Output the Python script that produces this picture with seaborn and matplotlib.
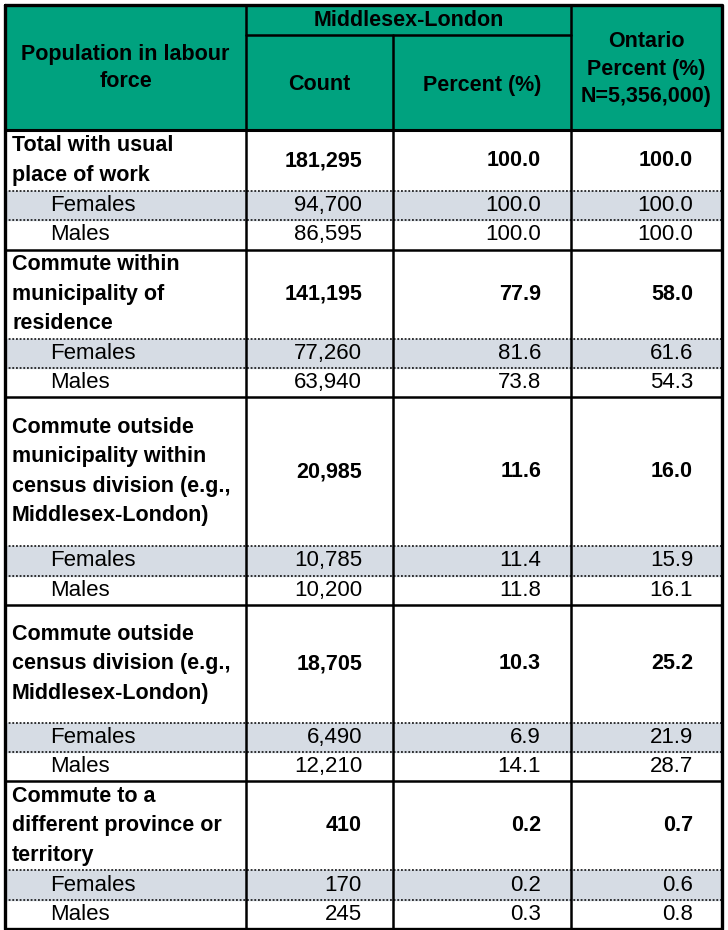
import matplotlib
matplotlib.use("Agg")
import matplotlib.pyplot as plt
import seaborn as sns

sns.set_theme(style="white")
plt.rcParams['font.family'] = ['Liberation Sans', 'DejaVu Sans']
plt.rcParams['text.color'] = 'black'

# - - - Table data - - -
categories = [
    ["Total with usual", "place of work"],
    ["Commute within", "municipality of", "residence"],
    ["Commute outside", "municipality within", "census division (e.g.,", "Middlesex-London)"],
    ["Commute outside", "census division (e.g.,", "Middlesex-London)"],
    ["Commute to a", "different province or", "territory"],
]
sub_labels = ["Females", "Males"]
count_total = [181295, 141195, 20985, 18705, 410]
count_f = [94700, 77260, 10785, 6490, 170]
count_m = [86595, 63940, 10200, 12210, 245]
pct_total = [100.0, 77.9, 11.6, 10.3, 0.2]
pct_f = [100.0, 81.6, 11.4, 6.9, 0.2]
pct_m = [100.0, 73.8, 11.8, 14.1, 0.3]
ont_total = [100.0, 58.0, 16.0, 25.2, 0.7]
ont_f = [100.0, 61.6, 15.9, 21.9, 0.6]
ont_m = [100.0, 54.3, 16.1, 28.7, 0.8]

# - - - Layout (pixels) - - -
green = "#00A27F"
grey = "#D6DCE4"
xs = [5, 246, 393, 571, 722]
right_edges = [362, 541, 693]
top, head_mid, head_bot = 5, 35, 130
block_h = [61, 89, 149, 118, 89]
sub_h = 29.3
line_gap = 29.5
fs_b = 15.5
fs = 16

fig = plt.figure(figsize=(7.28, 9.30), dpi=100)
ax = fig.add_axes([0, 0, 1, 1])
ax.set_xlim(0, 728)
ax.set_ylim(930, 0)
ax.axis('off')

# header
ax.fill_between([xs[0], xs[-1]], top, head_bot, color=green, zorder=0)
ax.text((xs[0] + xs[1]) / 2, 68, "Population in labour\nforce", ha='center', va='center',
        fontsize=fs_b, fontweight='bold', linespacing=1.4)
ax.text((xs[1] + xs[3]) / 2, (top + head_mid) / 2 + 1, "Middlesex-London", ha='center', va='center',
        fontsize=fs_b, fontweight='bold')
ax.text((xs[1] + xs[2]) / 2, 85, "Count", ha='center', va='center', fontsize=fs_b, fontweight='bold')
ax.text((xs[2] + xs[3]) / 2, 85, "Percent (%)", ha='center', va='center', fontsize=fs_b, fontweight='bold')
ax.text((xs[3] + xs[4]) / 2, 69, "Ontario\nPercent (%)\nN=5,356,000)", ha='center', va='center',
        fontsize=fs_b, fontweight='bold', linespacing=1.4)
ax.plot([xs[1], xs[3]], [head_mid, head_mid], color='black', lw=1.8)

y = head_bot
for i, lab in enumerate(categories):
    h = block_h[i]
    mid = y + h / 2
    n = len(lab)
    for k, line in enumerate(lab):
        ax.text(12, mid + (k - (n - 1) / 2) * line_gap, line, ha='left', va='center',
                fontsize=fs_b, fontweight='bold')
    ax.text(right_edges[0], mid, f"{count_total[i]:,}", ha='right', va='center', fontsize=fs_b, fontweight='bold')
    ax.text(right_edges[1], mid, f"{pct_total[i]:.1f}", ha='right', va='center', fontsize=fs_b, fontweight='bold')
    ax.text(right_edges[2], mid, f"{ont_total[i]:.1f}", ha='right', va='center', fontsize=fs_b, fontweight='bold')
    if i > 0:
        ax.plot([xs[0], xs[-1]], [y, y], color='black', lw=1.8, zorder=3)
    y += h
    rows = [(sub_labels[0], count_f[i], pct_f[i], ont_f[i]),
            (sub_labels[1], count_m[i], pct_m[i], ont_m[i])]
    for j, (name, c, p, o) in enumerate(rows):
        if j == 0:
            ax.fill_between([xs[0], xs[-1]], y, y + sub_h, color=grey, zorder=0)
        ax.plot([xs[0], xs[-1]], [y, y], color='black', lw=1.1, linestyle=(0, (1.2, 1.2)), zorder=2)
        m = y + sub_h / 2
        ax.text(50, m, name, ha='left', va='center', fontsize=fs)
        ax.text(right_edges[0], m, f"{c:,}", ha='right', va='center', fontsize=fs)
        ax.text(right_edges[1], m, f"{p:.1f}", ha='right', va='center', fontsize=fs)
        ax.text(right_edges[2], m, f"{o:.1f}", ha='right', va='center', fontsize=fs)
        y += sub_h
bottom = y

# grid lines
ax.plot([xs[0], xs[-1]], [head_bot, head_bot], color='black', lw=2.2, zorder=3)
for x in [xs[1], xs[3]]:
    ax.plot([x, x], [top, bottom], color='black', lw=1.8, zorder=3)
ax.plot([xs[2], xs[2]], [head_mid, bottom], color='black', lw=1.8, zorder=3)
ax.plot([xs[0], xs[-1], xs[-1], xs[0], xs[0]], [top, top, bottom, bottom, top], color='black', lw=2.4, zorder=4)

fig.savefig("out.png", dpi=100)
